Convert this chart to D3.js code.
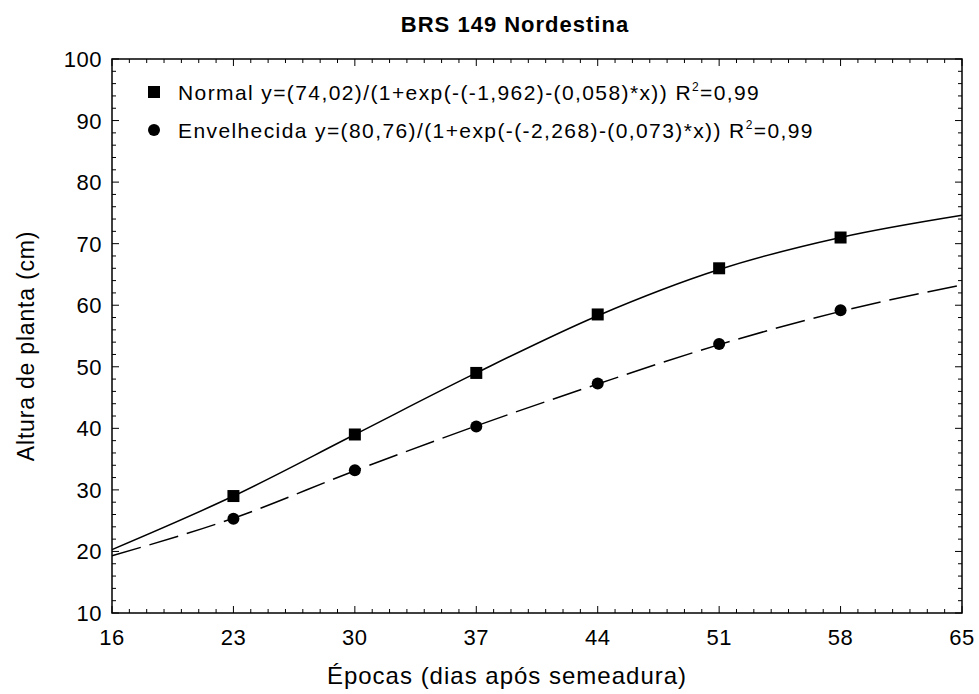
<!DOCTYPE html>
<html><head><meta charset="utf-8">
<script src="https://cdn.jsdelivr.net/npm/d3@7"></script>
<style>body{margin:0;background:#fff}text{font-family:"Liberation Sans",Arial,sans-serif}</style>
</head><body>
<script>
// observed points
const epocas = [23, 30, 37, 44, 51, 58];
const normal = [29, 39, 49, 58.5, 66, 71];
const envelhecida = [25.3, 33.2, 40.3, 47.3, 53.7, 59.2];
// fitted curves
const curveX = [16, 23, 30, 37, 44, 51, 58, 65];
const normalCurve = [20.3, 29, 39, 49, 58.3, 65.8, 71, 74.6];
const envCurve = [19.3, 25.4, 33.1, 40.4, 47.2, 53.6, 59, 63.3];
const xTicks = [16, 23, 30, 37, 44, 51, 58, 65];
const yTicks = [10, 20, 30, 40, 50, 60, 70, 80, 90, 100];

const W = 979, H = 694;
const m = {left: 112, right: 17, top: 59, bottom: 81};
const svg = d3.select("body").append("svg").attr("width", W).attr("height", H);
const x = d3.scaleLinear().domain([16, 65]).range([m.left, W - m.right]);
const y = d3.scaleLinear().domain([10, 100]).range([H - m.bottom, m.top]);

// frame
svg.append("rect").attr("x", m.left).attr("y", m.top)
  .attr("width", x(65) - x(16)).attr("height", y(10) - y(100))
  .attr("fill", "none").attr("stroke", "#000").attr("stroke-width", 1.5);

// ticks (inside) on all sides
const g = svg.append("g").attr("stroke", "#000").attr("stroke-width", 1);
d3.range(16, 66, 1).forEach(v => {
  const len = xTicks.includes(v) ? 7 : 4;
  g.append("line").attr("x1", x(v)).attr("x2", x(v)).attr("y1", y(10)).attr("y2", y(10) - len);
  g.append("line").attr("x1", x(v)).attr("x2", x(v)).attr("y1", y(100)).attr("y2", y(100) + len);
});
d3.range(10, 101, 2).forEach(v => {
  const len = v % 10 === 0 ? 7 : 4;
  g.append("line").attr("y1", y(v)).attr("y2", y(v)).attr("x1", x(16)).attr("x2", x(16) + len);
  g.append("line").attr("y1", y(v)).attr("y2", y(v)).attr("x1", x(65)).attr("x2", x(65) - len);
});

svg.selectAll("text.xt").data(xTicks).enter().append("text")
  .attr("x", d => x(d)).attr("y", y(10) + 32).attr("text-anchor", "middle")
  .attr("font-size", 22).attr("letter-spacing", 0.5).text(d => d);
svg.selectAll("text.yt").data(yTicks).enter().append("text")
  .attr("x", m.left - 10).attr("y", d => y(d) + 8).attr("text-anchor", "end")
  .attr("font-size", 22).attr("letter-spacing", 0.5).text(d => d);

svg.append("text").attr("x", 515).attr("y", 32).attr("text-anchor", "middle")
  .attr("font-size", 22).attr("letter-spacing", 1).attr("font-weight", "bold").text("BRS 149 Nordestina");
svg.append("text").attr("x", 507).attr("y", 684).attr("text-anchor", "middle")
  .attr("font-size", 24).attr("letter-spacing", 1).text("Épocas (dias após semeadura)");
svg.append("text").attr("transform", `translate(34,346) rotate(-90)`)
  .attr("text-anchor", "middle").attr("font-size", 23).attr("letter-spacing", 0.8).text("Altura de planta (cm)");

const line = d3.line().x(d => x(d[0])).y(d => y(d[1])).curve(d3.curveMonotoneX);
svg.append("path").attr("d", line(curveX.map((v, i) => [v, normalCurve[i]])))
  .attr("fill", "none").attr("stroke", "#000").attr("stroke-width", 1.5);
svg.append("path").attr("d", line(curveX.map((v, i) => [v, envCurve[i]])))
  .attr("fill", "none").attr("stroke", "#000").attr("stroke-width", 1.5)
  .attr("stroke-dasharray", "30,9");

svg.selectAll("rect.pt").data(epocas).enter().append("rect")
  .attr("x", d => x(d) - 6).attr("y", (d, i) => y(normal[i]) - 6)
  .attr("width", 12).attr("height", 12).attr("fill", "#000");
svg.selectAll("circle.pt").data(epocas).enter().append("circle")
  .attr("cx", d => x(d)).attr("cy", (d, i) => y(envelhecida[i])).attr("r", 6).attr("fill", "#000");

// legend
svg.append("rect").attr("x", 148).attr("y", 86).attr("width", 12).attr("height", 12).attr("fill", "#000");
svg.append("circle").attr("cx", 154).attr("cy", 130).attr("r", 6).attr("fill", "#000");
const l1 = svg.append("text").attr("x", 178).attr("y", 100).attr("font-size", 21).attr("letter-spacing", 1.4);
l1.append("tspan").text("Normal y=(74,02)/(1+exp(-(-1,962)-(0,058)*x)) R");
l1.append("tspan").attr("font-size", 12).attr("dy", -9).text("2");
l1.append("tspan").attr("dy", 9).text("=0,99");
const l2 = svg.append("text").attr("x", 178).attr("y", 138).attr("font-size", 21).attr("letter-spacing", 1.4);
l2.append("tspan").text("Envelhecida y=(80,76)/(1+exp(-(-2,268)-(0,073)*x)) R");
l2.append("tspan").attr("font-size", 12).attr("dy", -9).text("2");
l2.append("tspan").attr("dy", 9).text("=0,99");
</script>
</body></html>
